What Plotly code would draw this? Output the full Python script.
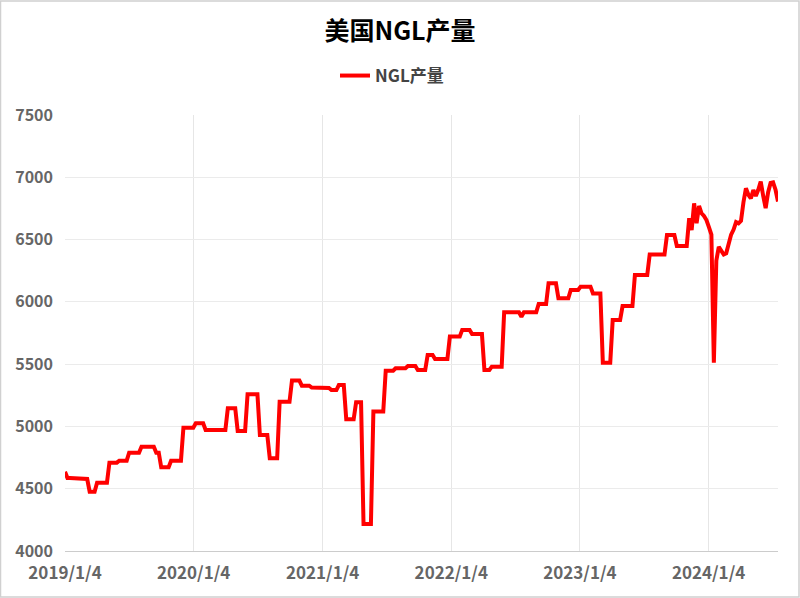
import pandas as pd
import plotly.graph_objects as go

start_date = "2019-01-04"
values = [
    4637,
    4586, 4586, 4586, 4586,
    4578, 4578, 4578, 4578, 4578,
    4476, 4476, 4476,
    4548, 4548, 4548, 4548, 4548,
    4709, 4709, 4709, 4709,
    4725, 4725, 4725, 4725,
    4789, 4789, 4789, 4789, 4789,
    4837, 4837, 4837, 4837, 4837, 4837,
    4789, 4789,
    4672, 4672, 4672, 4672,
    4725, 4725, 4725, 4725, 4725,
    4990, 4990, 4990, 4990, 4990,
    5025, 5025, 5025, 5025,
    4971, 4971, 4971, 4971, 4971, 4971, 4971, 4971, 4971,
    5145, 5145, 5145, 5145,
    4963, 4963, 4963, 4963,
    5258, 5258, 5258, 5258, 5258,
    4931, 4931, 4931, 4931,
    4744, 4744, 4744, 4744,
    5199, 5199, 5199, 5199, 5199,
    5368, 5368, 5368, 5368,
    5327, 5327, 5327, 5327,
    5312, 5312, 5312, 5312, 5309, 5309, 5309, 5309,
    5292, 5292, 5292,
    5332, 5332, 5332,
    5057, 5057, 5057, 5057,
    5194, 5194, 5194,
    4217, 4217, 4217, 4217,
    5119, 5119, 5119, 5119, 5119,
    5447, 5447, 5447, 5447,
    5467, 5467, 5467, 5467, 5467,
    5485, 5485, 5485, 5485,
    5453, 5453, 5453, 5453,
    5574, 5574, 5574,
    5541, 5541, 5541, 5541, 5541, 5541,
    5721, 5721, 5721, 5721, 5721,
    5775, 5775, 5775, 5775,
    5742, 5742, 5742, 5742, 5742,
    5453, 5453, 5453,
    5480, 5480, 5480, 5480, 5480,
    5916, 5916, 5916, 5916, 5916, 5916, 5916,
    5881,
    5916, 5916, 5916, 5916, 5916, 5916,
    5983, 5983, 5983, 5983,
    6149, 6149, 6149, 6149,
    6029, 6029, 6029, 6029, 6029,
    6095, 6095, 6095, 6095,
    6122, 6122, 6122, 6122, 6122,
    6068, 6068, 6068, 6068,
    5512, 5512, 5512, 5512,
    5854, 5854, 5854, 5854,
    5966, 5966, 5966, 5966, 5966,
    6215, 6215, 6215, 6215, 6215, 6215,
    6381, 6381, 6381, 6381, 6381, 6381, 6381,
    6536, 6536, 6536, 6536,
    6448, 6448, 6448, 6448, 6448,
    6671, 6577, 6791, 6631, 6770, 6711, 6690, 6657, 6600, 6540,
    5512, 6330, 6442, 6410, 6380, 6390, 6460, 6540, 6580, 6640,
    6630, 6650, 6800, 6912, 6860, 6830, 6898, 6850, 6900, 6966,
    6850, 6752, 6880, 6955, 6960, 6900, 6805,
]
dates = pd.date_range(start=start_date, periods=len(values), freq="7D")

tick_dates = ["2019-01-04", "2020-01-04", "2021-01-04", "2022-01-04", "2023-01-04", "2024-01-04"]
tick_labels = ["2019/1/4", "2020/1/4", "2021/1/4", "2022/1/4", "2023/1/4", "2024/1/4"]
y_ticks = [4000, 4500, 5000, 5500, 6000, 6500, 7000, 7500]

series_name = "NGL产量"
title_text = "美国NGL产量"

font_family = "Noto Sans CJK SC, Noto Sans, sans-serif"

fig = go.Figure()
fig.add_trace(go.Scatter(
    x=dates, y=values, mode="lines", name=series_name,
    line=dict(color="#ff0000", width=4),
))

ml, mr, mt, mb = 65, 22, 115, 47
pw, ph = 800 - ml - mr, 598 - mt - mb

fig.update_layout(
    width=800, height=598,
    margin=dict(l=ml, r=mr, t=mt, b=mb),
    paper_bgcolor="white", plot_bgcolor="white",
    title=dict(text=title_text, x=0.5, xanchor="center", y=1 - 31 / 598, yanchor="middle",
               font=dict(family=font_family, size=25, color="#000000", weight=700)),
    showlegend=True,
    legend=dict(orientation="h", x=(392 - ml) / pw, xanchor="center", y=1 + (115 - 76) / ph,
                yanchor="middle",
                font=dict(family=font_family, size=17, color="#444444", weight=700),
                bgcolor="rgba(0,0,0,0)"),
    xaxis=dict(
        type="date",
        range=[dates[0], dates[-1]],
        tickvals=tick_dates, ticktext=tick_labels,
        showgrid=True, gridcolor="#e6e6e6", gridwidth=1,
        showline=True, linecolor="#cccccc", linewidth=1,
        ticks="", zeroline=False,
        ticklabelstandoff=7,
        tickfont=dict(family=font_family, size=17, color="#666666", weight=700),
    ),
    yaxis=dict(
        range=[4000, 7500],
        tickvals=y_ticks,
        showgrid=True, gridcolor="#ebebeb", gridwidth=1,
        showline=False, zeroline=False, ticks="",
        ticklabelstandoff=11,
        tickfont=dict(family=font_family, size=16, color="#666666", weight=700),
    ),
    shapes=[dict(type="rect", xref="paper", yref="paper",
                 x0=-ml / pw + 0.5 / pw, x1=1 + (mr - 1) / pw,
                 y0=-(mb - 1) / ph, y1=1 + (mt - 1) / ph,
                 line=dict(color="#d0d0d0", width=1.5), layer="below")],
)

fig.write_html("out.html", config={"displayModeBar": False},
               post_script="document.body.style.margin='0px';")
